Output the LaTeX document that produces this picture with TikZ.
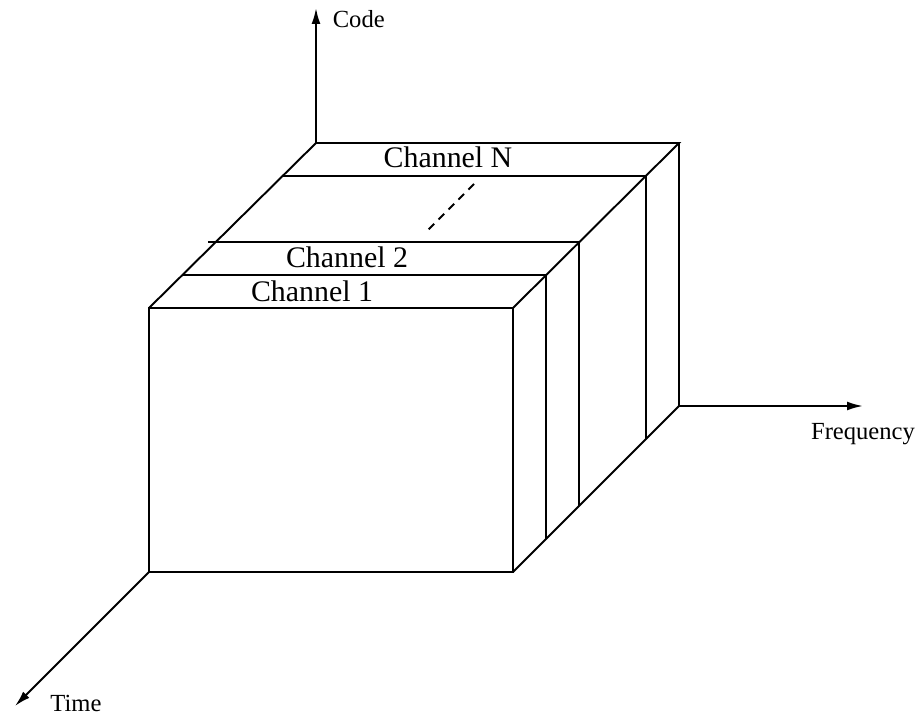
\documentclass[tikz,border=0pt]{standalone}
\usepackage{fontspec}
\setmainfont{Liberation Serif}
\usetikzlibrary{calc,arrows.meta}
\begin{document}
\begin{tikzpicture}[x=0.02cm,y=-0.02cm,line width=1.1pt,
    axis/.style={-{Latex[length=9pt,width=5pt]}},
    axlabel/.style={font=\fontsize{14}{16}\selectfont},
    chlabel/.style={font=\fontsize{17}{19}\selectfont}]
\useasboundingbox (0,0) rectangle (917,716);
% corners of the block
\coordinate (ftl) at (149,308);
\coordinate (ftr) at (513,308);
\coordinate (fbr) at (513,572);
\coordinate (fbl) at (149,572);
\coordinate (btl) at (316,143);
\coordinate (btr) at (679,143);
\coordinate (bbr) at (679,406);
% axes
\node[axlabel, anchor=west] (code) at (326,19) {Code};
\node[axlabel] (freq) at (863,434) {Frequency};
\node[axlabel] (time) at (76,703) {Time};
\coordinate (codetip) at (316,8);
\coordinate (freqtip) at (863,406);
\coordinate (timetip) at (15,706);
\draw[axis] (btl) -- (codetip);
\draw[axis] (bbr) -- (freqtip);
\draw[axis] (fbl) -- (timetip);
% faces
\draw (fbl) rectangle (ftr);
\draw (ftl) -- (btl) -- (btr) -- (ftr);
\draw (btr) -- (bbr) -- (fbr);
% channel slices
\foreach \f in {0.2,0.4,0.8} {
  \draw ($(ftl)!\f!(btl)$) -- ($(ftr)!\f!(btr)$);
  \draw ($(ftr)!\f!(btr)$) -- ($(fbr)!\f!(bbr)$);
}
\draw ($(ftl)!0.4!(btl)$) -- ++(-8,0);
\coordinate (dotstop) at (474,184);
\coordinate (dotsbot) at (427,231);
\draw[dash pattern=on 4.5pt off 3.5pt] (dotstop) -- (dotsbot);
% labels
\node[chlabel] (chn) at (448,157) {Channel N};
\node[chlabel] (ch2) at (347,257) {Channel 2};
\node[chlabel] (ch1) at (312,291) {Channel 1};
\end{tikzpicture}
\end{document}
